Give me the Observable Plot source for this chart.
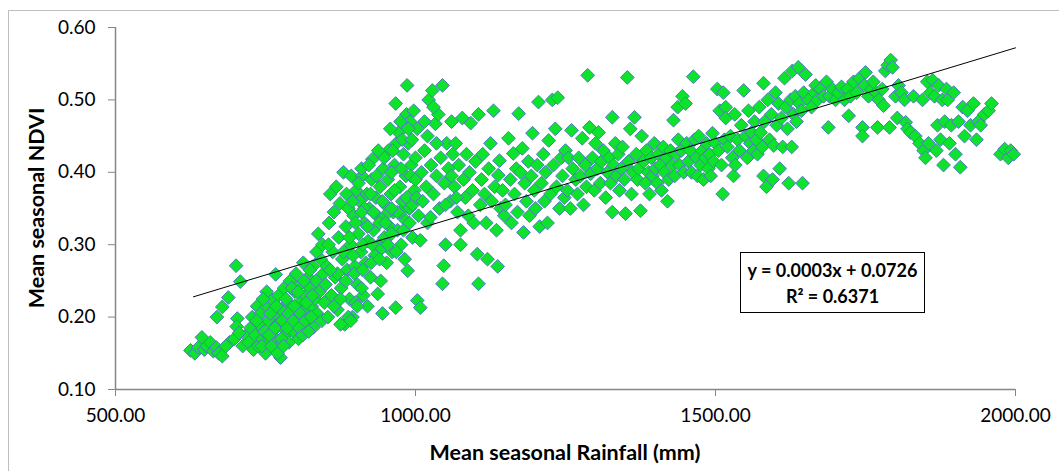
<!DOCTYPE html>
<html>
<head>
<meta charset="utf-8">
<script src="https://cdn.jsdelivr.net/npm/d3@7"></script>
<script src="https://cdn.jsdelivr.net/npm/@observablehq/plot@0.6"></script>
<style>
  html, body { margin: 0; padding: 0; background: #fff; }
  #wrap { position: relative; width: 1059px; height: 471px; overflow: hidden; font-family: Lato, "Open Sans", sans-serif; }
  #frame { position: absolute; left: 8px; top: 10px; width: 1060px; height: 480px; border: 1px solid #bfbfbf; box-sizing: border-box; }
  .ttl { position: absolute; font-weight: bold; font-size: 21.5px; color: #000; white-space: nowrap; }
  #ytitle { left: 36px; top: 208px; transform: translate(-50%, -50%) rotate(-90deg); }
  #xtitle { left: 565px; top: 452px; transform: translate(-50%, -50%); }
  #eq { position: absolute; left: 740px; top: 252px; width: 185px; height: 61px; border: 1px solid #000; box-sizing: border-box; background: #fff;
        font-weight: bold; font-size: 18px; text-align: center; line-height: 26px; padding-top: 4px; }
  #chart { position: absolute; left: 0; top: 0; }
</style>
</head>
<body>
<div id="wrap">
  <div id="frame"></div>
  <div id="chart"></div>
  <div id="eq"></div>
  <div class="ttl" id="ytitle"></div>
  <div class="ttl" id="xtitle"></div>
</div>
<script>
const xTitle = "Mean seasonal Rainfall (mm)";
const yTitle = "Mean seasonal NDVI";
const eqLine1 = "y = 0.0003x + 0.0726";
const eqLine2 = "R² = 0.6371";
const xTicks = [500, 1000, 1500, 2000];
const yTicks = [0.1, 0.2, 0.3, 0.4, 0.5, 0.6];
const fitSlope = 0.000251;
const fitIntercept = 0.0699;
const fitRange = [630, 2000];

// [rainfall (mm), NDVI]
const lowRainfall = [
[625,0.154],[632,0.150],[638,0.158],[644,0.172],[648,0.155],[652,0.160],[658,0.165],[663,0.153],[668,0.158],[672,0.150],[678,0.146],[669,0.200],[678,0.214],[688,0.227],[701,0.271],[708,0.249],[703,0.198],[702,0.187],[690,0.165],[684,0.160],[712,0.160],[718,0.175],[698,0.170],[706,0.178],
[722,0.165],[725,0.185],[728,0.200],[730,0.155],[733,0.175],[736,0.215],[738,0.160],[740,0.190],[742,0.205],[745,0.170],[748,0.180],[750,0.150],[752,0.215],[755,0.195],[757,0.165],[760,0.225],[762,0.180],[767,0.259],[765,0.205],[767,0.170],[770,0.190],[772,0.230],[774,0.160],[775,0.144],[777,0.210],[779,0.185],[781,0.240],[783,0.175],[785,0.200],[787,0.220],[789,0.165],[791,0.250],[793,0.195],[795,0.210],[797,0.180],[799,0.235],[801,0.260],[803,0.200],[805,0.170],[807,0.220],[809,0.245],[811,0.190],[813,0.275],[815,0.210],[817,0.230],[819,0.185],[821,0.255],[823,0.200],[825,0.240],[827,0.215],[829,0.270],[830,0.186],[832,0.225],[834,0.250],[836,0.205],[838,0.315],[840,0.235],[842,0.280],[844,0.195],[846,0.260],[848,0.220],[850,0.245],
[735,0.195],[758,0.205],[768,0.215],[778,0.195],[788,0.205],[798,0.215],[808,0.205],[818,0.220],[828,0.230],[744,0.160],[756,0.175],[766,0.185],[776,0.170],[786,0.185],[796,0.195],[806,0.185],[816,0.195],[826,0.200],[784,0.225],[794,0.240],[804,0.235],[814,0.250],[824,0.265],[835,0.290],[845,0.300],[760,0.160],[770,0.150],[780,0.160],[812,0.175],[822,0.180],[752,0.235],[746,0.225]
];
const midRainfall = [
[852,0.270],[854,0.200],[856,0.330],[858,0.370],[860,0.230],[862,0.290],[864,0.345],[866,0.255],[868,0.380],[870,0.210],[872,0.310],[874,0.357],[876,0.240],[878,0.280],[880,0.400],[882,0.190],[884,0.325],[886,0.265],[888,0.350],[890,0.225],[892,0.300],[893,0.395],[895,0.200],[897,0.340],[899,0.270],[901,0.375],[903,0.245],[905,0.315],[907,0.360],[909,0.290],[911,0.395],[913,0.230],[915,0.330],[917,0.275],[919,0.370],[921,0.305],[923,0.350],[925,0.255],[927,0.390],[928,0.418],[930,0.320],[932,0.285],[934,0.365],[936,0.340],[937,0.232],[939,0.300],[941,0.380],[942,0.250],[944,0.335],[945,0.205],[946,0.405],[948,0.310],[950,0.355],[952,0.275],[954,0.390],[955,0.430],[957,0.325],[959,0.370],[961,0.290],[963,0.345],[965,0.410],[967,0.495],[967,0.213],[968,0.440],[970,0.320],[972,0.455],[974,0.380],[976,0.300],[978,0.360],[980,0.425],[982,0.335],[984,0.395],[985,0.480],[986,0.520],[987,0.264],[988,0.440],[990,0.350],[991,0.470],[993,0.410],[995,0.310],[997,0.485],[998,0.375],[1000,0.420],[1003,0.460],[1003,0.223],[1005,0.340],[1008,0.306],[1008,0.213],
[885,0.370],[895,0.360],[905,0.385],[915,0.350],[925,0.370],[935,0.395],[945,0.360],[955,0.345],[965,0.375],[975,0.345],[985,0.365],[995,0.355],[890,0.310],[900,0.330],[910,0.345],[920,0.325],[930,0.345],[940,0.330],[950,0.330],[960,0.315],[970,0.345],[980,0.320],[990,0.330],[880,0.290],[896,0.285],[912,0.300],[928,0.300],[944,0.295],[960,0.350],[976,0.405],[992,0.395],[870,0.260],[884,0.250],[898,0.260],[912,0.265],[926,0.275],[940,0.280],[954,0.300],[968,0.290],[982,0.280],[900,0.220],[910,0.240],[920,0.215],[875,0.225],[864,0.215],[875,0.190],[888,0.200],[958,0.460],[975,0.470],[988,0.460],[962,0.430],[978,0.445],[994,0.445],[910,0.405],[922,0.410],[948,0.420],[938,0.430],[960,0.400],[1000,0.390],[1002,0.365],[903,0.215],[892,0.195],[855,0.300],[858,0.265],
[1010,0.400],[1012,0.360],[1015,0.430],[1018,0.380],[1020,0.330],[1022,0.500],[1025,0.338],[1026,0.410],[1028,0.513],[1030,0.370],[1033,0.467],[1035,0.395],[1038,0.480],[1040,0.350],[1042,0.420],[1045,0.246],[1045,0.520],[1047,0.271],[1048,0.385],[1050,0.300],[1052,0.440],[1055,0.405],[1058,0.360],[1060,0.470],[1062,0.425],[1065,0.380],[1067,0.440],[1070,0.345],[1072,0.410],[1075,0.320],[1078,0.475],[1080,0.390],[1083,0.365],[1085,0.425],[1088,0.340],[1090,0.400],[1092,0.468],[1095,0.375],[1097,0.330],[1100,0.415],[1103,0.287],[1105,0.246],[1105,0.480],[1108,0.355],[1110,0.390],[1112,0.425],[1115,0.370],[1118,0.330],[1120,0.280],[1122,0.405],[1125,0.440],[1127,0.360],[1130,0.485],[1132,0.380],[1135,0.320],[1137,0.270],[1138,0.396],[1140,0.416],[1142,0.350],[1145,0.375],[1148,0.340],
[1020,0.450],[1030,0.490],[1035,0.440],[1015,0.470],[1050,0.355],[1060,0.395],[1068,0.365],[1075,0.300]
];
const highRainfall = [
[1150,0.355],[1155,0.447],[1158,0.390],[1160,0.330],[1163,0.426],[1165,0.370],[1168,0.405],[1170,0.345],[1172,0.481],[1175,0.400],[1178,0.433],[1180,0.317],[1182,0.385],[1185,0.360],[1188,0.415],[1190,0.340],[1193,0.395],[1195,0.454],[1198,0.375],[1200,0.350],[1203,0.410],[1205,0.497],[1207,0.325],[1210,0.385],[1213,0.425],[1215,0.360],[1217,0.400],[1220,0.330],[1222,0.444],[1225,0.370],[1228,0.500],[1230,0.410],[1233,0.460],[1235,0.380],[1237,0.503],[1240,0.350],[1243,0.420],[1245,0.395],[1248,0.365],[1250,0.430],[1253,0.375],[1255,0.420],[1258,0.350],[1260,0.458],
[1262,0.405],[1267,0.390],[1270,0.370],[1272,0.420],[1275,0.395],[1278,0.447],[1280,0.355],[1283,0.410],[1285,0.380],[1287,0.534],[1290,0.462],[1292,0.398],[1295,0.420],[1298,0.375],[1300,0.440],[1303,0.405],[1305,0.455],[1308,0.385],[1310,0.415],[1313,0.430],[1317,0.365],[1320,0.400],[1323,0.420],[1325,0.385],[1328,0.476],[1328,0.345],[1330,0.410],[1333,0.440],[1335,0.395],[1338,0.425],[1340,0.375],[1343,0.405],[1345,0.435],[1348,0.390],[1350,0.343],[1353,0.531],[1355,0.415],[1358,0.460],[1360,0.370],[1362,0.400],[1365,0.476],[1368,0.425],[1370,0.390],[1372,0.405],[1375,0.347],[1377,0.450],[1380,0.415],[1383,0.385],[1385,0.430],[1388,0.400],[1390,0.370],[1393,0.420],[1395,0.395],[1398,0.440],[1400,0.405],[1403,0.385],[1405,0.425],[1408,0.410],[1410,0.375],[1413,0.435],[1415,0.400],[1418,0.420],[1420,0.360],[1422,0.390],[1425,0.430],[1428,0.410],[1430,0.472],[1432,0.395],[1435,0.425],[1437,0.490],[1438,0.445],[1440,0.410],[1443,0.430],[1445,0.505],[1447,0.400],[1450,0.495],[1452,0.440],[1455,0.415],[1458,0.430],[1460,0.400],[1463,0.532],[1465,0.445],[1468,0.420],[1470,0.395],[1472,0.450],[1475,0.410],[1478,0.430],[1480,0.390],[1483,0.420],[1485,0.440],[1488,0.405],[1490,0.425],[1492,0.395],[1495,0.454],[1497,0.415],[1500,0.440],[1503,0.515],[1505,0.430],[1507,0.485],[1510,0.410],[1512,0.370],[1515,0.445],[1517,0.490],
[1513,0.510],[1517,0.475],[1520,0.435],[1525,0.450],[1528,0.420],[1530,0.395],[1532,0.480],[1533,0.410],[1537,0.445],[1540,0.430],[1543,0.465],[1547,0.513],[1550,0.450],[1553,0.420],[1555,0.485],[1558,0.440],[1560,0.455],[1563,0.430],[1565,0.470],[1568,0.445],[1570,0.425],[1573,0.490],[1575,0.455],[1578,0.435],[1580,0.523],[1580,0.395],[1582,0.470],[1585,0.380],[1587,0.500],[1590,0.445],[1593,0.480],[1595,0.390],[1597,0.437],[1600,0.510],[1602,0.465],[1605,0.495],[1607,0.405],[1610,0.475],[1612,0.435],[1615,0.530],[1617,0.490],[1620,0.460],[1622,0.385],[1625,0.500],[1627,0.435],[1628,0.540],[1630,0.480],[1633,0.505],[1635,0.470],[1638,0.545],[1640,0.495],[1643,0.485],[1645,0.385],[1647,0.510],[1650,0.535],[1655,0.500],[1660,0.490],[1665,0.510],[1667,0.520],[1670,0.500],[1675,0.515],[1680,0.505],[1685,0.525],[1688,0.462],[1690,0.505],[1695,0.515],[1700,0.500],
[1705,0.510],[1710,0.518],[1715,0.500],[1720,0.515],[1722,0.478],[1725,0.505],[1730,0.525],[1735,0.510],[1740,0.530],[1745,0.462],[1745,0.450],[1748,0.520],[1750,0.538],[1755,0.505],[1760,0.515],[1763,0.525],[1768,0.510],[1770,0.462],[1772,0.500],[1778,0.515],[1780,0.492],[1783,0.540],[1787,0.548],[1790,0.462],[1792,0.555],[1795,0.545],[1800,0.505],[1803,0.475],[1805,0.520],[1810,0.510],[1815,0.500],[1817,0.469],[1820,0.460],[1825,0.455],[1830,0.505],[1833,0.450],[1840,0.440],[1845,0.500],[1847,0.430],[1850,0.420],[1853,0.525],[1855,0.440],[1858,0.510],[1862,0.527],[1865,0.505],[1868,0.430],[1870,0.465],[1872,0.520],[1875,0.445],[1878,0.500],[1880,0.410],[1882,0.470],[1885,0.515],[1887,0.500],[1890,0.440],[1893,0.465],[1897,0.510],[1900,0.425],[1905,0.470],[1908,0.407],[1912,0.490],[1915,0.450],[1920,0.485],[1925,0.465],[1930,0.495],[1935,0.445],[1938,0.470],[1942,0.465],[1948,0.480],[1955,0.485],[1960,0.495],[1975,0.425],[1982,0.432],[1988,0.420],[1992,0.430],[1997,0.425]
];

const points = [...lowRainfall, ...midRainfall, ...highRainfall].map(([rain, ndvi]) => ({rain, ndvi}));
const fitLine = fitRange.map(x => ({rain: x, ndvi: fitSlope * x + fitIntercept}));
const axisGray = "#868686";

const chart = Plot.plot({
  width: 1059,
  height: 471,
  marginLeft: 115,
  marginRight: 44,
  marginTop: 27,
  marginBottom: 82,
  style: {fontFamily: "Lato, 'Open Sans', sans-serif", fontSize: "19px", color: "#000", background: "transparent", overflow: "visible"},
  x: {domain: [500, 2000]},
  y: {domain: [0.1, 0.6]},
  marks: [
    Plot.axisX({ticks: xTicks, tickFormat: d => d.toFixed(2), tickSize: 7, tickPadding: 12, stroke: axisGray, fill: "#000", label: null}),
    Plot.axisY({ticks: yTicks, tickFormat: d => d.toFixed(2), tickSize: 7, tickPadding: 13, stroke: axisGray, fill: "#000", label: null}),
    Plot.ruleY([0.1], {stroke: axisGray, strokeWidth: 1.5}),
    Plot.ruleX([500], {stroke: axisGray, strokeWidth: 1.5}),
    Plot.dot(points, {x: "rain", y: "ndvi", symbol: "diamond2", r: 6.2, fill: "#0ce32a", stroke: "#4a7ebb", strokeWidth: 1, fillOpacity: 1}),
    Plot.line(fitLine, {x: "rain", y: "ndvi", stroke: "#000", strokeWidth: 1})
  ]
});
document.getElementById("chart").appendChild(chart);
document.getElementById("xtitle").textContent = xTitle;
document.getElementById("ytitle").textContent = yTitle;
document.getElementById("eq").innerHTML = eqLine1 + "<br>" + eqLine2;
</script>
</body>
</html>
